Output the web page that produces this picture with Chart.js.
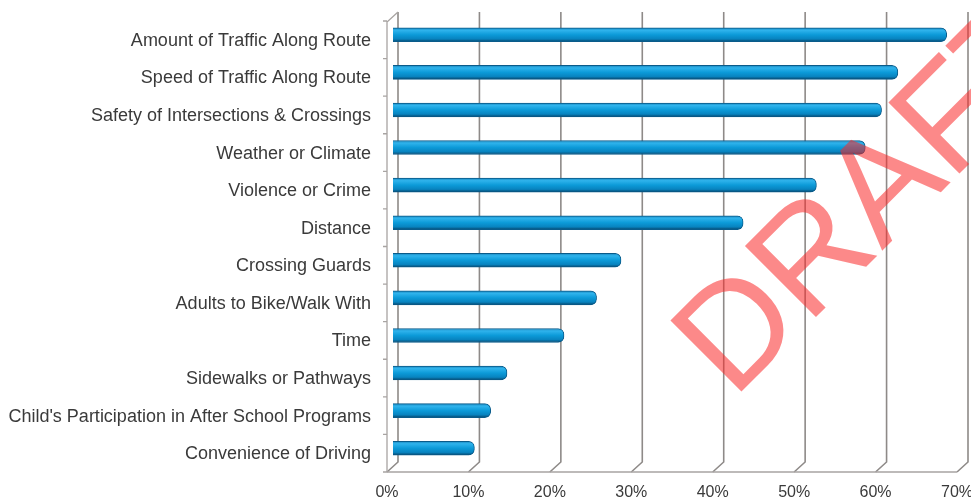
<!DOCTYPE html>
<html>
<head>
<meta charset="utf-8">
<script src="https://cdn.jsdelivr.net/npm/chart.js@4/dist/chart.umd.min.js"></script>
<style>
  html, body { margin: 0; padding: 0; background: #fff; }
  #wrap { width: 971px; height: 503px; position: relative; }
</style>
</head>
<body>
<div id="wrap"><canvas id="barrierChart"></canvas></div>
<script>
const categories = [
  "Amount of Traffic Along Route",
  "Speed of Traffic Along Route",
  "Safety of Intersections & Crossings",
  "Weather or Climate",
  "Violence or Crime",
  "Distance",
  "Crossing Guards",
  "Adults to Bike/Walk With",
  "Time",
  "Sidewalks or Pathways",
  "Child's Participation in After School Programs",
  "Convenience of Driving"
];
const percentages = [68, 62, 60, 58, 52, 43, 28, 25, 21, 14, 12, 10];
const tickValues = [0, 10, 20, 30, 40, 50, 60, 70];
const watermark = "DRAFT";

// depth offsets of the fake 3D box (front / back relative to the bars)
const FRONT_DX = -6, BACK_DX = 5, DEPTH_DY = 5;

function barGradient(context) {
  const chart = context.chart;
  const yScale = chart.scales.y;
  if (!yScale || !chart.chartArea) return '#0c9ad8';
  const yc = yScale.getPixelForValue(context.dataIndex);
  const g = chart.ctx.createLinearGradient(0, yc - 7, 0, yc + 7);
  g.addColorStop(0, '#1a86bd');
  g.addColorStop(0.18, '#2fb3ec');
  g.addColorStop(0.5, '#0c9ad8');
  g.addColorStop(0.8, '#0883bf');
  g.addColorStop(1, '#06456b');
  return g;
}

const frame3d = {
  id: 'frame3d',
  beforeDatasetsDraw: function(chart) {
    const ctx = chart.ctx;
    const x = chart.scales.x;
    const a = chart.chartArea;
    const x0 = x.getPixelForValue(tickValues[0]);
    const xEnd = x.getPixelForValue(tickValues[tickValues.length - 1]);
    ctx.save();
    ctx.lineWidth = 1.6;
    ctx.strokeStyle = '#8e8a88';
    tickValues.forEach(function(v) {
      const px = x.getPixelForValue(v);
      ctx.beginPath();
      ctx.moveTo(px + BACK_DX, a.top - 4);
      ctx.lineTo(px + BACK_DX, a.bottom - DEPTH_DY);
      ctx.lineTo(px + FRONT_DX, a.bottom + DEPTH_DY);
      ctx.stroke();
    });
    ctx.strokeStyle = '#a8a4a2';
    ctx.lineWidth = 1.3;
    ctx.beginPath();
    ctx.moveTo(x0 + FRONT_DX, a.bottom + DEPTH_DY);
    ctx.lineTo(xEnd + FRONT_DX, a.bottom + DEPTH_DY);
    ctx.moveTo(x0 + FRONT_DX, a.bottom + DEPTH_DY);
    ctx.lineTo(x0 + FRONT_DX, a.top + 6);
    ctx.lineTo(x0 + BACK_DX, a.top - 4);
    const step = (a.bottom - a.top) / categories.length;
    for (let i = 0; i <= categories.length; i++) {
      const yb = a.top + i * step + DEPTH_DY;
      ctx.moveTo(x0 + FRONT_DX - 4, yb);
      ctx.lineTo(x0 + FRONT_DX, yb);
    }
    ctx.stroke();
    ctx.restore();
  },
  afterDraw: function(chart) {
    const ctx = chart.ctx;
    ctx.save();
    ctx.translate(733, 400);
    ctx.rotate(-Math.PI / 4);
    ctx.font = '146px "Liberation Sans", Arial, sans-serif';
    ctx.fillStyle = 'rgba(250, 40, 40, 0.55)';
    ctx.textBaseline = 'alphabetic';
    ctx.fillText(watermark, 0, 0);
    ctx.restore();
  }
};

const ctx = document.getElementById('barrierChart').getContext('2d');
const chart = new Chart(ctx, {
  type: 'bar',
  data: {
    labels: categories,
    datasets: [{
      label: 'Barriers',
      data: percentages,
      backgroundColor: barGradient,
      borderColor: '#0a5b8a',
      borderWidth: 1,
      borderRadius: 6,
      borderSkipped: 'start',
      barThickness: 14
    }]
  },
  options: {
    indexAxis: 'y',
    responsive: true,
    maintainAspectRatio: false,
    animation: false,
    layout: { padding: { top: 16, right: 8, bottom: 1, left: 0 } },
    plugins: {
      legend: { display: false },
      tooltip: { enabled: false }
    },
    scales: {
      x: {
        min: 0,
        max: 70,
        afterBuildTicks: function(scale) {
          scale.ticks = tickValues.map(function(v) { return { value: v }; });
        },
        afterFit: function(scale) {
          scale.paddingLeft = 0;
          scale.paddingRight = 0;
          scale.height = 35;
        },
        grid: { display: false, drawTicks: false },
        border: { display: false },
        ticks: {
          padding: 16,
          labelOffset: FRONT_DX,
          maxRotation: 0,
          color: '#3a3a3a',
          font: { family: '"Liberation Sans", Arial, sans-serif', size: 16 },
          callback: function(v) { return v + '%'; }
        }
      },
      y: {
        afterFit: function(scale) {
          scale.width = 393;
          scale.paddingTop = 0;
          scale.paddingBottom = 0;
        },
        grid: { display: false, drawTicks: false },
        border: { display: false },
        ticks: {
          padding: 22,
          labelOffset: 6,
          color: '#3a3a3a',
          font: { family: '"Liberation Sans", Arial, sans-serif', size: 18 }
        }
      }
    }
  },
  plugins: [frame3d]
});
</script>
</body>
</html>
